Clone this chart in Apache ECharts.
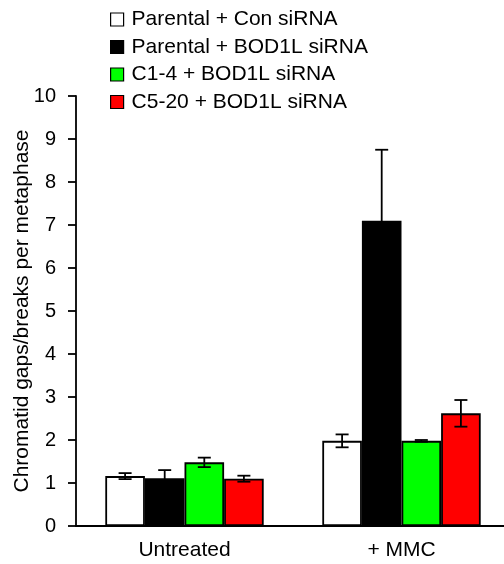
<!DOCTYPE html>
<html><head><meta charset="utf-8">
<script src="https://cdn.jsdelivr.net/npm/echarts@6/dist/echarts.min.js"></script>
<style>html,body{margin:0;padding:0;background:#fff}#c{width:504px;height:564px}</style>
</head><body><div id="c"></div>
<script>
const categories = ["Untreated", "+ MMC"];
const seriesNames = ["Parental + Con siRNA", "Parental + BOD1L siRNA", "C1-4 + BOD1L siRNA", "C5-20 + BOD1L siRNA"];
const seriesColors = ["#ffffff", "#000000", "#00ff00", "#ff0000"];
const means = [
  [1.16, 1.98],
  [1.11, 7.10],
  [1.48, 1.98],
  [1.10, 2.62]
];
const errors = [
  [0.07, 0.15],
  [0.19, 1.65],
  [0.11, 0.02],
  [0.07, 0.31]
];
const yTicks = [0, 1, 2, 3, 4, 5, 6, 7, 8, 9, 10];

const CAT_GAP = 0.27;
const font = "Liberation Sans, Arial, sans-serif";
const chart = echarts.init(document.getElementById('c'));

const series = [];
seriesNames.forEach((name, i) => {
  series.push({
    name, type: 'bar', data: means[i], barGap: '0%', barCategoryGap: (CAT_GAP * 100) + '%',
    itemStyle: { color: seriesColors[i], borderColor: '#000', borderWidth: 1.8 },
    emphasis: { disabled: true }, z: 2
  });
});
const errData = [];
means.forEach((m, i) => m.forEach((v, j) => errData.push([j, v, errors[i][j], i])));
series.push({
  type: 'custom', name: 'err', z: 5, silent: true,
  data: errData,
  renderItem: function (params, api) {
    const cat = api.value(0), v = api.value(1), e = api.value(2), s = api.value(3);
    const band = api.size([1, 0])[0];
    const groupW = band * (1 - CAT_GAP);
    const bw = groupW / 4;
    const c = api.coord([cat, v]);
    const x = c[0] - groupW / 2 + bw * (s + 0.5);
    const yt = api.coord([cat, v + e])[1];
    const yb = api.coord([cat, v - e])[1];
    const cap = 6.5;
    const st = { stroke: '#000', lineWidth: 1.8 };
    return { type: 'group', children: [
      { type: 'line', shape: { x1: x, y1: yt, x2: x, y2: yb }, style: st },
      { type: 'line', shape: { x1: x - cap, y1: yt, x2: x + cap, y2: yt }, style: st },
      { type: 'line', shape: { x1: x - cap, y1: yb, x2: x + cap, y2: yb }, style: st }
    ]};
  }
});

chart.setOption({
  animation: false,
  textStyle: { fontFamily: font },
  legend: {
    data: seriesNames, orient: 'vertical', left: 105, top: 4, itemGap: 6.5,
    icon: 'rect', itemWidth: 13, itemHeight: 13,
    textStyle: { fontSize: 21, color: '#000', fontFamily: font, padding: [0, 0, 0, 3] },
    itemStyle: { borderColor: '#000', borderWidth: 1.2 }
  },
  grid: { left: 76, top: 96, width: 434, bottom: 38, containLabel: false, outerBoundsMode: 'none' },
  xAxis: {
    type: 'category', data: categories,
    axisLine: { lineStyle: { color: '#000', width: 2 } },
    axisTick: { show: false },
    axisLabel: { fontSize: 21, color: '#000', margin: 14, fontFamily: font }
  },
  yAxis: {
    type: 'value', min: yTicks[0], max: yTicks[yTicks.length - 1], interval: 1,
    name: 'Chromatid gaps/breaks per metaphase', nameLocation: 'middle', nameGap: 43, nameRotate: 90,
    nameMoveOverlap: false,
    nameTextStyle: { fontSize: 21, color: '#000', fontFamily: font },
    axisLine: { show: true, lineStyle: { color: '#000', width: 1.8 } },
    axisTick: { show: true, length: 8, lineStyle: { color: '#000', width: 1.8 } },
    splitLine: { show: false },
    axisLabel: { fontSize: 20, color: '#000', margin: 20, fontFamily: font }
  },
  series
});
</script></body></html>
